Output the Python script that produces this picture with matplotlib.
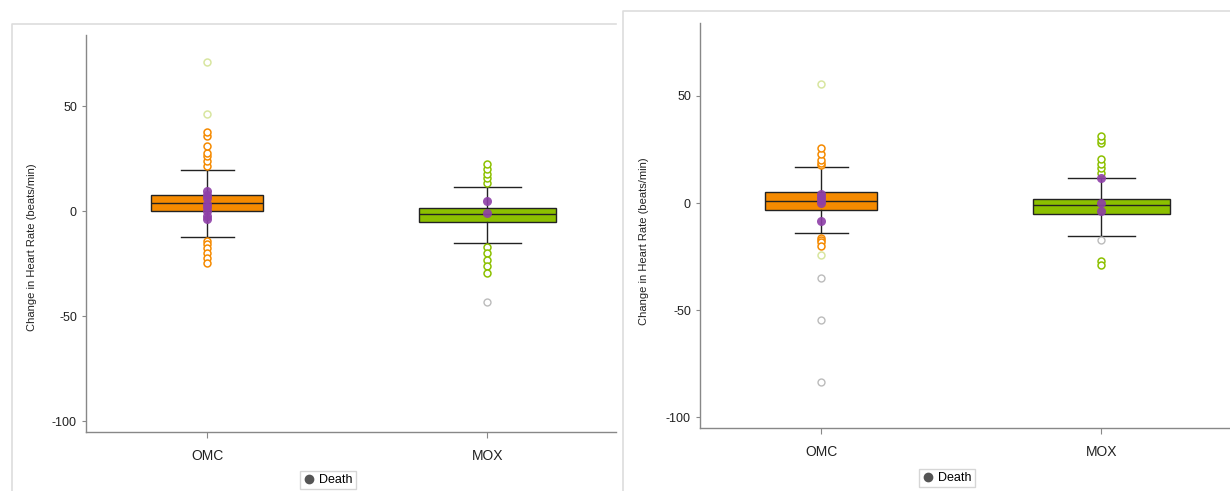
import matplotlib
import matplotlib.pyplot as plt
from matplotlib.lines import Line2D

matplotlib.use('Agg')

plt.rcParams['font.family'] = ['Liberation Sans', 'DejaVu Sans']
plt.rcParams['axes.unicode_minus'] = False

groups = ['OMC', 'MOX']
y_label = 'Change in Heart Rate (beats/min)'
y_ticks = [50, 0, -50, -100]

# box stats per panel: (q1, median, q3, whisker low, whisker high)
left_boxes = [(0, 4.0, 8.0, -12.2, 19.7), (-5.0, -1.1, 1.6, -15.2, 11.6)]
right_boxes = [(-3.1, 0.8, 5.1, -13.8, 16.9), (-4.9, -1.1, 1.7, -15.3, 11.6)]

# outliers in the group colour
left_out = [[21.4, 23.8, 26.2, 27.8, 31.3, 35.7, 38.0, -14.0, -15.5, -17.4, -19.8, -22.1, -24.6],
            [13.5, 15.8, 18.0, 20.3, 22.7, -16.7, -19.8, -22.9, -26.1, -29.3]]
right_out = [[17.8, 18.8, 20.3, 23.1, 25.7, -16.1, -17.2, -18.4, -20.0],
             [14.1, 16.3, 18.4, 20.6, 28.0, 29.5, 31.4, -27.0, -29.0]]
# faint outliers (light green / gray)
left_faint = [[46.5, 71.0], []]
right_faint = [[55.6, -24.3], []]
left_gray = [[], [-42.9]]
right_gray = [[-35.1, -54.8, -83.7], [-17.2]]

# deaths
left_death = [[9.5, 8.0, 6.5, 3.5, 2.0, 0.0, -2.0, -3.5], [4.8, -0.8]]
right_death = [[4.2, 2.6, 1.6, 0.2, -8.4], [11.6, 0.2, -3.9]]

box_colors = ['#f58a00', '#8cc000']
faint_color = '#d8e6a0'
death_color = '#8e3fa8'
box_widths = [0.40, 0.49]
cap_widths = [0.19, 0.24]

W, H = 1230, 491


def frac(x0, y0, x1, y1):
    return [x0 / W, 1 - y1 / H, (x1 - x0) / W, (y1 - y0) / H]


def draw_panel(ax, boxes, outs, faint, gray, deaths, label_xy):
    stats = []
    for name, b in zip(groups, boxes):
        stats.append(dict(label=name, q1=b[0], med=b[1], q3=b[2], whislo=b[3], whishi=b[4], fliers=[]))
    pos = list(range(len(groups)))
    bp = ax.bxp(stats, positions=pos, widths=box_widths, capwidths=cap_widths, patch_artist=True,
                showfliers=False, boxprops=dict(linewidth=1.0, edgecolor='#222222'),
                medianprops=dict(color='#222222', linewidth=1.0),
                whiskerprops=dict(color='#222222', linewidth=1.0),
                capprops=dict(color='#222222', linewidth=1.0), zorder=2)
    for patch, c in zip(bp['boxes'], box_colors):
        patch.set_facecolor(c)

    for i in pos:
        ax.plot([i] * len(outs[i]), outs[i], 'o', ms=5, mfc='white', mec=box_colors[i], mew=1.1, zorder=3)
        ax.plot([i] * len(faint[i]), faint[i], 'o', ms=5, mfc='white', mec=faint_color, mew=1.1, zorder=3)
        ax.plot([i] * len(gray[i]), gray[i], 'o', ms=5, mfc='white', mec='#bbbbbb', mew=1.0, zorder=3)
        ax.plot([i] * len(deaths[i]), deaths[i], 'o', ms=6.5, color=death_color, alpha=0.9, mew=0, zorder=4)

    ax.set_xlim(-0.434, 1.46)
    ax.set_ylim(-105, 84)
    ax.set_xticks(pos, groups)
    ax.set_yticks(y_ticks)
    ax.tick_params(axis='both', colors='#888888', labelcolor='#222222', length=4, width=0.8)
    ax.tick_params(axis='x', labelsize=10, pad=8)
    ax.tick_params(axis='y', labelsize=9, length=3)
    for s in ['top', 'right']:
        ax.spines[s].set_visible(False)
    for s in ['left', 'bottom']:
        ax.spines[s].set_color('#888888')
        ax.spines[s].set_linewidth(1.0)
    ax.set_ylabel(y_label, fontsize=8, color='#222222')
    ax.yaxis.set_label_coords(*label_xy)


def main():
    fig = plt.figure(figsize=(W / 100, H / 100), dpi=100)

    # panel frames: only top and left edges are visible
    frame = dict(transform=fig.transFigure, color='#dddddd', linewidth=1.2)
    fig.add_artist(Line2D([12 / W, 12 / W, 616 / W], [0, 1 - 24 / H, 1 - 24 / H], **frame))
    fig.add_artist(Line2D([623 / W, 623 / W, 1], [0, 1 - 11 / H, 1 - 11 / H], **frame))

    ax1 = fig.add_axes(frac(86, 35, 616, 432))
    ax2 = fig.add_axes(frac(700, 23, 1230, 428))
    draw_panel(ax1, left_boxes, left_out, left_faint, left_gray, left_death, (-0.093, 0.466))
    draw_panel(ax2, right_boxes, right_out, right_faint, right_gray, right_death, (-0.096, 0.462))

    handle = [Line2D([], [], marker='o', ls='', ms=6, color='#555555')]
    for cx, cy in [(328, 480), (947, 478)]:
        fig.legend(handle, ['Death'], loc='center', bbox_to_anchor=(cx / W, 1 - cy / H), fontsize=9,
                   frameon=True, fancybox=False, edgecolor='#cccccc', handletextpad=0.3,
                   borderpad=0.25, handlelength=1.0, borderaxespad=0)

    fig.savefig('out.png', dpi=100)


if __name__ == "__main__":
    main()
